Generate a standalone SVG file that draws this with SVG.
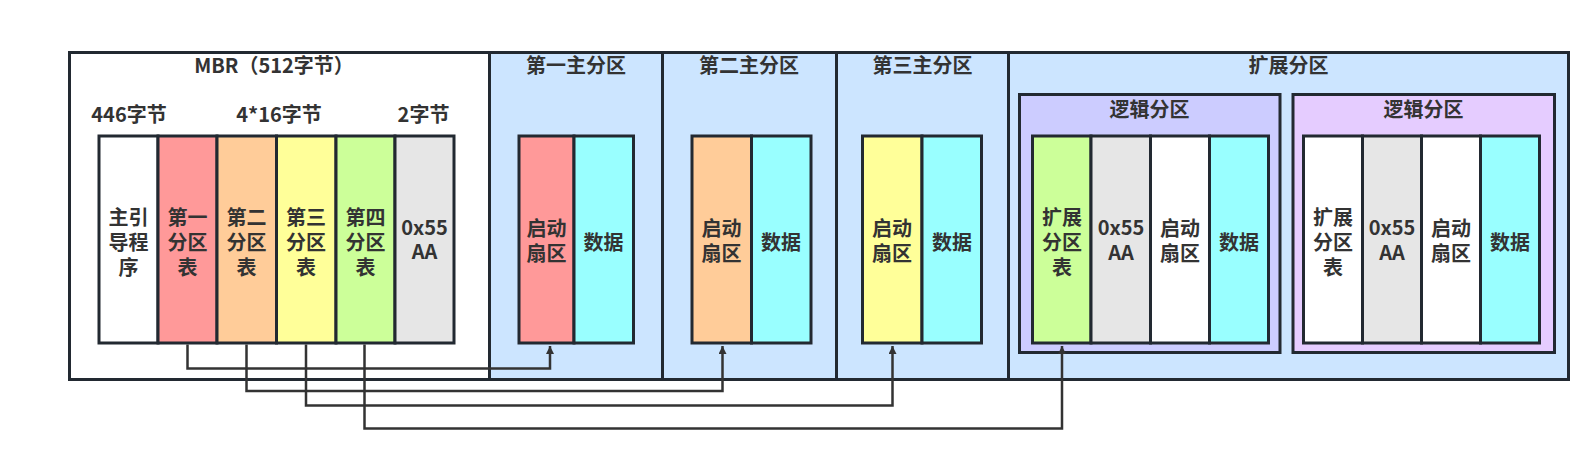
<svg xmlns="http://www.w3.org/2000/svg" width="1588" height="462" viewBox="0 0 1588 462">
<defs>
<style>
.box{stroke:#222931;stroke-width:3;}
.t{font-family:"Noto Sans CJK SC","Liberation Sans",sans-serif;font-weight:bold;font-size:20px;fill:#333;text-anchor:middle;}
.c{fill:none;stroke:#333;stroke-width:2.5;}
</style>
<marker id="arr" viewBox="0 0 10 10" refX="10" refY="5" markerWidth="8" markerHeight="8" markerUnits="userSpaceOnUse" orient="auto">
<path d="M0,0 L10,5 L0,10 z" fill="#333"/>
</marker>
</defs>
<rect width="1588" height="462" fill="#fff"/>

<g id="mbr">
<rect x="69.5" y="52.5" width="420" height="327" fill="#fff" class="box"/>
<text class="t" x="274" y="73">MBR（512字节）</text>
<text class="t" x="129" y="122">446字节</text>
<text class="t" x="279" y="122">4*16字节</text>
<text class="t" x="423.5" y="122">2字节</text>
</g>

<g id="primary1">
<rect x="489.5" y="52.5" width="173" height="327" fill="#cce5ff" class="box"/>
<text class="t" x="576" y="73">第一主分区</text>
</g>
<g id="primary2">
<rect x="662.5" y="52.5" width="174" height="327" fill="#cce5ff" class="box"/>
<text class="t" x="749" y="73">第二主分区</text>
</g>
<g id="primary3">
<rect x="836.5" y="52.5" width="172" height="327" fill="#cce5ff" class="box"/>
<text class="t" x="922.5" y="73">第三主分区</text>
</g>
<g id="extended">
<rect x="1008.5" y="52.5" width="560" height="327" fill="#cce5ff" class="box"/>
<text class="t" x="1288.5" y="73">扩展分区</text>
</g>

<g id="mbr-cells">
<rect x="99" y="136" width="59" height="207" fill="#fff" class="box"/>
<rect x="158" y="136" width="59" height="207" fill="#ff9999" class="box"/>
<rect x="217" y="136" width="59.5" height="207" fill="#ffcc99" class="box"/>
<rect x="276.5" y="136" width="59.5" height="207" fill="#ffff99" class="box"/>
<rect x="336" y="136" width="59" height="207" fill="#ccff99" class="box"/>
<rect x="395" y="136" width="59" height="207" fill="#e6e6e6" class="box"/>
<text class="t" x="128.5" y="224.5">主引</text>
<text class="t" x="128.5" y="249.5">导程</text>
<text class="t" x="128.5" y="274.5">序</text>
<text class="t" x="187.5" y="224.5">第一</text>
<text class="t" x="187.5" y="249.5">分区</text>
<text class="t" x="187.5" y="274.5">表</text>
<text class="t" x="246.5" y="224.5">第二</text>
<text class="t" x="246.5" y="249.5">分区</text>
<text class="t" x="246.5" y="274.5">表</text>
<text class="t" x="306" y="224.5">第三</text>
<text class="t" x="306" y="249.5">分区</text>
<text class="t" x="306" y="274.5">表</text>
<text class="t" x="365.5" y="224.5">第四</text>
<text class="t" x="365.5" y="249.5">分区</text>
<text class="t" x="365.5" y="274.5">表</text>
<text class="t" x="424.5" y="235">0x55</text>
<text class="t" x="424.5" y="259">AA</text>
</g>

<g id="p1-cells">
<rect x="519" y="136" width="55" height="207" fill="#ff9999" class="box"/>
<rect x="574" y="136" width="59.5" height="207" fill="#99ffff" class="box"/>
<text class="t" x="546.5" y="236">启动</text>
<text class="t" x="546.5" y="261">扇区</text>
<text class="t" x="603.5" y="249.5">数据</text>
</g>
<g id="p2-cells">
<rect x="692" y="136" width="59.5" height="207" fill="#ffcc99" class="box"/>
<rect x="751.5" y="136" width="59.5" height="207" fill="#99ffff" class="box"/>
<text class="t" x="721.5" y="236">启动</text>
<text class="t" x="721.5" y="261">扇区</text>
<text class="t" x="781" y="249.5">数据</text>
</g>
<g id="p3-cells">
<rect x="862.5" y="136" width="59.5" height="207" fill="#ffff99" class="box"/>
<rect x="922" y="136" width="59.5" height="207" fill="#99ffff" class="box"/>
<text class="t" x="892" y="236">启动</text>
<text class="t" x="892" y="261">扇区</text>
<text class="t" x="952" y="249.5">数据</text>
</g>

<g id="logical1">
<rect x="1019.5" y="94.5" width="260.5" height="258" fill="#ccccff" class="box"/>
<text class="t" x="1149.5" y="117">逻辑分区</text>
<rect x="1032.5" y="136" width="58.5" height="207" fill="#ccff99" class="box"/>
<rect x="1091" y="136" width="59.5" height="207" fill="#e6e6e6" class="box"/>
<rect x="1150.5" y="136" width="59" height="207" fill="#fff" class="box"/>
<rect x="1209.5" y="136" width="59" height="207" fill="#99ffff" class="box"/>
<text class="t" x="1062" y="224.5">扩展</text>
<text class="t" x="1062" y="249.5">分区</text>
<text class="t" x="1062" y="274.5">表</text>
<text class="t" x="1121" y="235">0x55</text>
<text class="t" x="1121" y="260">AA</text>
<text class="t" x="1180" y="236">启动</text>
<text class="t" x="1180" y="261">扇区</text>
<text class="t" x="1239" y="249.5">数据</text>
</g>
<g id="logical2">
<rect x="1293" y="94.5" width="261.5" height="258" fill="#e5ccff" class="box"/>
<text class="t" x="1423.5" y="117">逻辑分区</text>
<rect x="1303.5" y="136" width="59" height="207" fill="#fff" class="box"/>
<rect x="1362.5" y="136" width="59" height="207" fill="#e6e6e6" class="box"/>
<rect x="1421.5" y="136" width="59" height="207" fill="#fff" class="box"/>
<rect x="1480.5" y="136" width="59" height="207" fill="#99ffff" class="box"/>
<text class="t" x="1333" y="224.5">扩展</text>
<text class="t" x="1333" y="249.5">分区</text>
<text class="t" x="1333" y="274.5">表</text>
<text class="t" x="1392" y="235">0x55</text>
<text class="t" x="1392" y="260">AA</text>
<text class="t" x="1451" y="236">启动</text>
<text class="t" x="1451" y="261">扇区</text>
<text class="t" x="1510" y="249.5">数据</text>
</g>

<g id="connectors">
<path class="c" d="M187.5,344.5 V368.5 H550 V346" marker-end="url(#arr)"/>
<path class="c" d="M246.5,344.5 V391 H722.5 V346" marker-end="url(#arr)"/>
<path class="c" d="M306,344.5 V405.5 H892.5 V346" marker-end="url(#arr)"/>
<path class="c" d="M364.5,344.5 V428.5 H1062 V346" marker-end="url(#arr)"/>
</g>
</svg>
